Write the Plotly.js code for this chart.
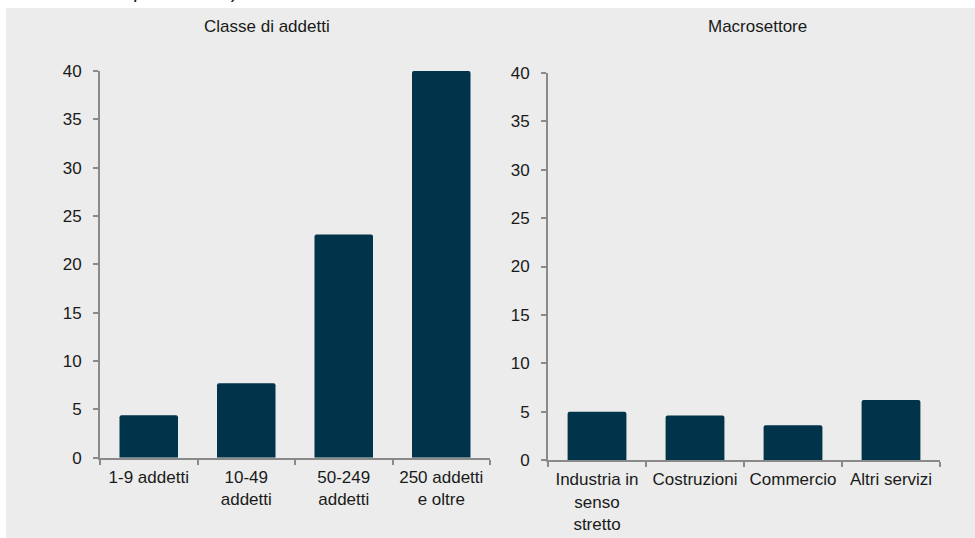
<!DOCTYPE html>
<html>
<head>
<meta charset="utf-8">
<script src="https://cdn.plot.ly/plotly-3.0.1.min.js"></script>
<style>html,body{margin:0;padding:0;background:#fff;}#chart{width:975px;height:538px;}</style>
</head>
<body>
<div id="chart"></div>
<script>
const classiCategorie = ["1-9 addetti", "10-49<br>addetti", "50-249<br>addetti", "250 addetti<br>e oltre"];
const classiValori = [4.4, 7.7, 23.1, 40.0];
const settoriCategorie = ["Industria in<br>senso<br>stretto", "Costruzioni", "Commercio", "Altri servizi"];
const settoriValori = [5.0, 4.6, 3.6, 6.2];
const titoloSinistra = "Classe di addetti";
const titoloDestra = "Macrosettore";
const titoloTaglio = "percentuali)";

const W = 975, H = 538;
const px = v => v / W;
const py = v => 1 - v / H;
const barColor = "#01334a";
const axisColor = "#8a8a8a";
const font = {family: "Liberation Sans, Arial, sans-serif", size: 17, color: "#1a1a1a"};

const traces = [
  {type: "bar", x: classiCategorie, y: classiValori, xaxis: "x", yaxis: "y",
   marker: {color: barColor, line: {width: 0}}, width: 0.6, hoverinfo: "x+y"},
  {type: "bar", x: settoriCategorie, y: settoriValori, xaxis: "x2", yaxis: "y2",
   marker: {color: barColor, line: {width: 0}}, width: 0.6, hoverinfo: "x+y"}
];

const xCommon = {type: "category", showline: true, linecolor: axisColor, linewidth: 2,
  ticks: "outside", tickson: "boundaries", ticklen: 5, tickwidth: 2, tickcolor: axisColor,
  showgrid: false, zeroline: false, tickfont: font, range: [-0.5, 3.5], fixedrange: true,
  ticklabelstandoff: 3};
const yCommon = {range: [0, 40], dtick: 5, showline: true, linecolor: axisColor, linewidth: 2,
  ticks: "outside", ticklen: 5, tickwidth: 1.5, tickcolor: axisColor, showgrid: false,
  zeroline: false, tickfont: font, ticklabelstandoff: 8, fixedrange: true};

const layout = {
  width: W, height: H,
  margin: {l: 0, r: 0, t: 0, b: 0},
  paper_bgcolor: "#ffffff",
  plot_bgcolor: "rgba(0,0,0,0)",
  showlegend: false,
  bargap: 0.4,
  barcornerradius: 2,
  font: font,
  xaxis: Object.assign({}, xCommon, {domain: [px(100), px(490)], anchor: "y"}),
  yaxis: Object.assign({}, yCommon, {domain: [py(457.7), py(71)], anchor: "x"}),
  xaxis2: Object.assign({}, xCommon, {domain: [px(548), px(940)], anchor: "y2"}),
  yaxis2: Object.assign({}, yCommon, {domain: [py(460), py(73)], anchor: "x2"}),
  shapes: [
    {type: "rect", xref: "paper", yref: "paper", x0: px(6), x1: 1, y0: 0, y1: py(8),
     fillcolor: "#ebeceb", line: {width: 0}, layer: "below"}
  ],
  annotations: [
    {text: titoloSinistra, xref: "paper", yref: "paper", x: px(267), y: py(27),
     xanchor: "center", yanchor: "middle", showarrow: false, font: font},
    {text: titoloDestra, xref: "paper", yref: "paper", x: px(757), y: py(27),
     xanchor: "center", yanchor: "middle", showarrow: false, font: font},
    {text: titoloTaglio, xref: "paper", yref: "paper", x: px(131), y: py(4),
     xanchor: "left", yanchor: "bottom", showarrow: false,
     font: {family: "Liberation Sans, Arial, sans-serif", size: 20, color: "#1a1a1a"}}
  ]
};

Plotly.newPlot("chart", traces, layout, {displayModeBar: false, responsive: false});
</script>
</body>
</html>
